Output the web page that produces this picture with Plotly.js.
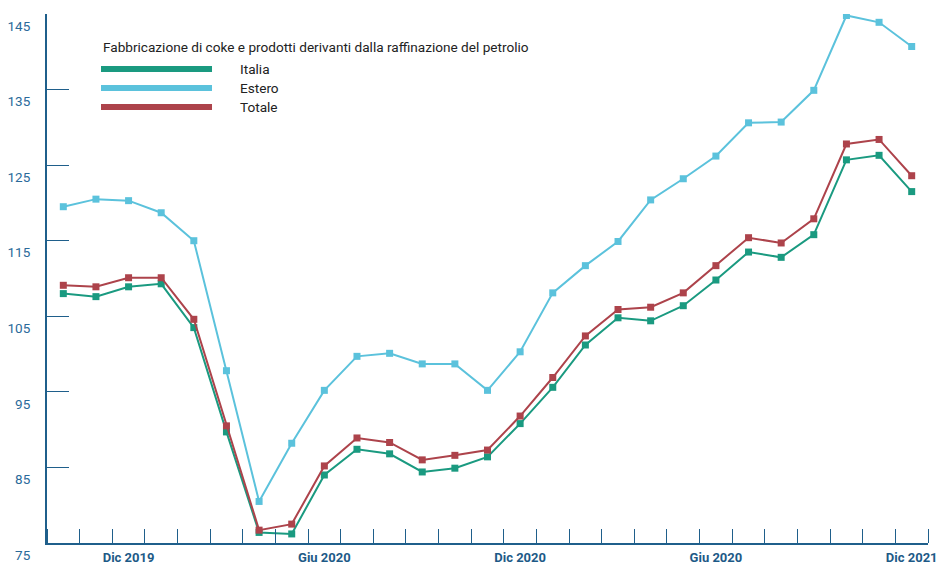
<!DOCTYPE html>
<html>
<head>
<meta charset="utf-8">
<script src="https://cdn.plot.ly/plotly-3.0.1.min.js"></script>
<style>
html,body{margin:0;padding:0;background:#fff;}
#chart{width:938px;height:566px;}
</style>
</head>
<body>
<div id="chart"></div>
<script>
const months = ['Ott 2019','Nov 2019','Dic 2019','Gen 2020','Feb 2020','Mar 2020','Apr 2020','Mag 2020','Giu 2020','Lug 2020','Ago 2020','Set 2020','Ott 2020','Nov 2020','Dic 2020','Gen 2021','Feb 2021','Mar 2021','Apr 2021','Mag 2021','Giu 2021','Lug 2021','Ago 2021','Set 2021','Ott 2021','Nov 2021','Dic 2021'];
const italia = [108.0,107.6,108.9,109.3,103.5,89.7,76.4,76.2,84.0,87.4,86.8,84.4,84.9,86.4,90.8,95.6,101.2,104.8,104.4,106.4,109.8,113.5,112.8,115.8,125.7,126.3,121.5];
const estero = [119.5,120.5,120.3,118.7,115.0,97.8,80.5,88.2,95.2,99.7,100.1,98.7,98.7,95.2,100.3,108.1,111.7,114.9,120.4,123.2,126.2,130.6,130.7,134.9,144.8,143.9,140.7];
const totale = [109.1,108.9,110.1,110.1,104.6,90.5,76.7,77.5,85.2,88.9,88.3,86.0,86.6,87.3,91.8,96.9,102.4,105.9,106.2,108.1,111.7,115.4,114.7,117.9,127.8,128.4,123.6];
const tickPos = [2,8,14,20,26];
const tickLabels = ['Dic 2019','Giu 2020','Dic 2020','Giu 2020','Dic 2021'];
const yTicks = [75,85,95,105,115,125,135,145];
const seriesNames = ['Italia','Estero','Totale'];
const seriesColors = ['#1a9a80','#5bc2dc','#ad434b'];
const legendTitle = 'Fabbricazione di coke e prodotti derivanti dalla raffinazione del petrolio';

const xIdx = months.map((m,i)=>i);
const data = [italia, estero, totale].map((vals,k)=>({
  x: xIdx, y: vals, type:'scatter', mode:'lines+markers', name: seriesNames[k],
  text: months, hoverinfo:'text+y',
  line:{color: seriesColors[k], width:2},
  marker:{symbol:'square', size:7, color: seriesColors[k]}
}));
const ordered = [data[1], data[0], data[2]];

const shapes = [];
const annotations = [];
annotations.push({xref:'paper', yref:'paper', x:0.0613, y:0.9376, xanchor:'left', yanchor:'middle',
  text: legendTitle, showarrow:false, font:{family:'Roboto, sans-serif', size:13.6, color:'#222'}});
const legY = [0.896, 0.860, 0.824];
seriesNames.forEach((n,k)=>{
  shapes.push({type:'line', xref:'paper', yref:'paper', x0:0.0613, x1:0.1873, y0:legY[k], y1:legY[k],
    line:{color: seriesColors[k], width:6}});
  annotations.push({xref:'paper', yref:'paper', x:0.2168, y:legY[k], xanchor:'left', yanchor:'middle',
    text:n, showarrow:false, font:{family:'Roboto, sans-serif', size:13.6, color:'#222'}});
});

const layout = {
  width:938, height:566,
  margin:{l:47, r:10, t:14, b:23},
  paper_bgcolor:'#fff', plot_bgcolor:'#fff',
  showlegend:false,
  font:{family:'Roboto, sans-serif'},
  xaxis:{
    range:[-0.5, 26.5], showgrid:false, zeroline:false,
    showline:true, linecolor:'#1f5f8b', linewidth:2,
    tickmode:'array', tickvals: tickPos, ticktext: tickLabels, ticks:'',
    tickfont:{family:'Roboto, sans-serif', size:13, color:'#1d5a87', weight:'bold'},
    ticklabelstandoff:1,
    minor:{tick0:-0.5, dtick:1, ticks:'inside', ticklen:14, tickcolor:'#1f5f8b', tickwidth:1, showgrid:false}
  },
  yaxis:{
    range:[75,145], showgrid:false, zeroline:false,
    showline:true, linecolor:'#1f5f8b', linewidth:2,
    tickmode:'array', tickvals:yTicks, ticks:'inside', ticklen:22, tickcolor:'#1f5f8b', tickwidth:1,
    tickfont:{family:'Roboto, sans-serif', size:13.5, color:'#2a6a9a'},
    ticklabelshift:12, ticklabelstandoff:12
  },
  shapes: shapes,
  annotations: annotations
};
Plotly.newPlot('chart', ordered, layout, {displayModeBar:false, staticPlot:true});
</script>
</body>
</html>
